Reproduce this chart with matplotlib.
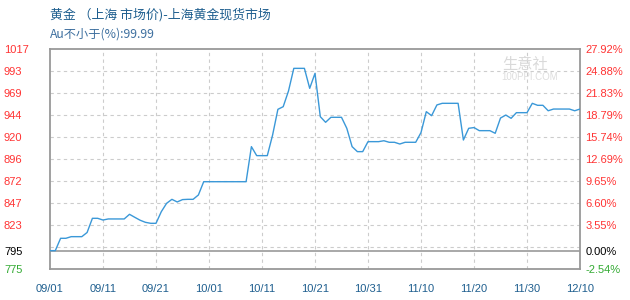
import matplotlib
matplotlib.use("Agg")
import matplotlib.pyplot as plt
import numpy as np

plt.rcParams['font.family'] = ['Liberation Sans', 'Noto Sans CJK SC', 'DejaVu Sans']

# ---------------- data ----------------
title_text = "黄金 （上海 市场价)-上海黄金现货市场"
subtitle_text = "Au不小于(%):99.99"

# daily prices from 09/01 to 12/10 (day offsets 0..100)
prices = [
    795.0, 795.0, 808.6, 808.6, 810.4, 810.4, 810.4, 815.0, 830.6, 830.6,
    828.7, 829.9, 829.9, 829.9, 829.9, 835.0, 831.7, 828.5, 826.2, 825.1,
    825.1, 837.9, 847.1, 851.5, 848.6, 851.2, 851.5, 851.5, 856.3, 870.9,
    870.9, 870.9, 870.9, 870.9, 870.9, 870.9, 870.9, 870.9, 909.5, 899.6,
    899.6, 899.6, 922.3, 950.6, 953.5, 970.8, 995.7, 995.7, 995.7, 973.7,
    990.2, 942.5, 936.3, 941.8, 941.8, 941.8, 929.7, 909.5, 904.0, 904.0,
    915.0, 915.0, 915.0, 916.0, 914.3, 914.3, 912.4, 914.3, 914.3, 914.3,
    925.0, 948.0, 943.6, 955.4, 957.2, 957.2, 957.2, 957.2, 916.8, 929.7,
    930.5, 927.1, 927.1, 927.1, 924.2, 941.0, 944.3, 940.7, 946.9, 946.9,
    946.9, 957.2, 955.0, 955.0, 949.0, 950.9, 950.9, 950.9, 950.9, 949.0,
    950.9,
]
x_tick_days = [0, 10, 20, 30, 40, 50, 60, 70, 80, 90, 100]
x_tick_labels = ["09/01", "09/11", "09/21", "10/01", "10/11", "10/21",
                 "10/31", "11/10", "11/20", "11/30", "12/10"]

base_price = 795.0
y_min, y_max = 774.8, 1017.0
left_labels = ["775", "795", "823", "847", "872", "896", "920", "944", "969", "993", "1017"]
right_labels = ["-2.54%", "0.00%", "3.55%", "6.60%", "9.65%", "12.69%",
                "15.74%", "18.79%", "21.83%", "24.88%", "27.92%"]

# ---------------- layout ----------------
W, H = 630, 300
fig = plt.figure(figsize=(W / 100, H / 100), dpi=100)
L, R, T, B = 50, 580, 49, 269
ax = fig.add_axes([L / W, 1 - B / H, (R - L) / W, (B - T) / H])

days = np.arange(len(prices))
ax.plot(days, prices, color='#3a98d8', lw=1.0, zorder=3)

ax.set_xlim(0, len(prices) - 1)
ax.set_ylim(y_min, y_max)

# grid
n_grid = 10
grid_vals = [y_min + k * (y_max - y_min) / n_grid for k in range(n_grid + 1)]
for g in grid_vals[1:-1]:
    ax.axhline(g, color='#cccccc', lw=0.8, ls=(0, (3, 3)), zorder=1)
for d in x_tick_days[1:-1]:
    ax.axvline(d, color='#cccccc', lw=0.8, ls=(0, (3, 3)), zorder=1)
ax.axhline(base_price, color='#999999', lw=1.2, zorder=2)

for s in ax.spines.values():
    s.set_color('#999999')
    s.set_linewidth(1.3)

# y tick positions: bottom, base, then grid lines 2..10
ytick_pos = [grid_vals[0], base_price] + grid_vals[2:]

def label_color(v):
    if abs(v - base_price) < 0.5:
        return '#000000'
    return '#ff3333' if v > base_price else '#33aa33'

ax.set_yticks(ytick_pos)
ax.set_yticklabels(left_labels)
ax.tick_params(axis='y', length=0, pad=46 * 0.72, labelsize=8)
for lab, v in zip(ax.get_yticklabels(), ytick_pos):
    lab.set_horizontalalignment('left')
    lab.set_color(label_color(v))

ax2 = ax.twinx()
ax2.set_ylim(y_min, y_max)
ax2.set_yticks(ytick_pos)
ax2.set_yticklabels(right_labels)
ax2.tick_params(axis='y', length=0, pad=4, labelsize=8)
for lab, v in zip(ax2.get_yticklabels(), ytick_pos):
    lab.set_color(label_color(v))
for s in ax2.spines.values():
    s.set_visible(False)

ax.set_xticks(x_tick_days)
ax.set_xticklabels(x_tick_labels)
ax.tick_params(axis='x', length=0, pad=11, labelsize=8, labelcolor='#1f5f8f')

# titles
fig.text(L / W, 1 - 15 / H, title_text, color='#1f5f8f', fontsize=9.3,
         family=['Noto Sans CJK SC', 'DejaVu Sans'], va='center', ha='left')
fig.text(L / W, 1 - 34 / H, subtitle_text, color='#3d6f9f', fontsize=8.8,
         family=['Noto Sans CJK SC', 'DejaVu Sans'], va='center', ha='left')

# watermark
fig.text(502 / W, 1 - 64 / H, "生意社", color='#d9d9d9', fontsize=11,
         family=['Noto Sans CJK SC', 'DejaVu Sans'], va='center', ha='left', zorder=0)
fig.text(501 / W, 1 - 77 / H, "100PPI.COM", color='#dddddd', fontsize=7,
         va='center', ha='left', zorder=0)

fig.savefig("out.png", dpi=100, facecolor='white')
